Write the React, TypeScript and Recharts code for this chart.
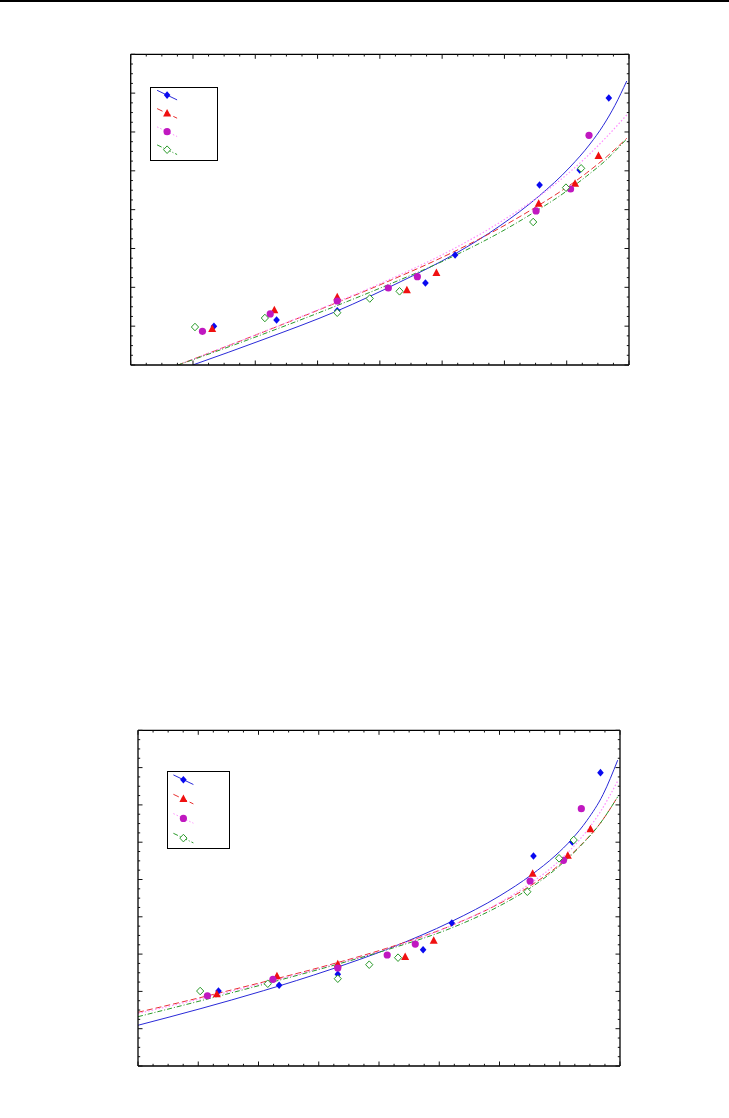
import React from 'react';
import { ComposedChart, XAxis, YAxis, Line, Scatter, Legend } from 'recharts';

// ---------- measured x positions (shared by both panels) ----------
const xBlue = [6.68, 11.71, 16.58, 23.66, 26.04, 32.82, 36.04, 38.38];
const xRed = [6.54, 11.53, 16.58, 22.17, 24.54, 32.75, 35.67, 37.55];
const xMagenta = [5.76, 11.2, 16.58, 20.68, 23.01, 32.54, 35.31, 36.79];
const xGreen = [5.16, 10.77, 16.58, 19.19, 21.58, 32.31, 34.94, 36.16];

// ---------- top panel values ----------
const yBlueTop = [4.98, 5.79, 6.99, 10.56, 14.16, 23.17, 25.1, 34.37];
const yRedTop = [4.63, 7.04, 8.72, 9.62, 11.84, 20.77, 23.34, 26.91];
const yMagentaTop = [4.34, 6.57, 8.24, 9.91, 11.37, 19.83, 22.66, 29.57];
const yGreenTop = [4.89, 6.05, 6.73, 8.56, 9.49, 18.41, 22.83, 25.32];

// fitted curves, top panel
const cTopBlueX = [4.98, 10.78, 16.56, 21.62, 26.03, 29.65, 32.78, 35.27, 36.87, 37.92, 38.87, 39.82];
const cTopBlueY = [0, 3.36, 6.95, 10.69, 14.31, 17.93, 21.75, 25.49, 28.45, 30.81, 33.42, 36.56];
const cTopX = [3.8, 10.38, 16.56, 20.01, 26.03, 29.65, 32.75, 33.92, 36.6, 38.21, 39.82];
const cTopRedY = [0, 4.08, 8.04, 10.32, 14.65, 17.65, 20.56, 21.73, 24.73, 26.82, 29.19];
const cTopMagentaY = [0, 4.1, 8.12, 10.47, 15.05, 18.38, 21.7, 23.1, 26.8, 29.38, 32.2];
const cTopGreenY = [0, 3.82, 7.65, 9.89, 14.1, 17.07, 20.02, 21.21, 24.32, 26.46, 29.12];

// ---------- bottom panel values ----------
const yBlueBot = [10.05, 10.82, 12.29, 15.59, 19.17, 28.15, 30.03, 39.32];
const yRedBot = [9.61, 12.02, 13.63, 14.61, 16.8, 25.78, 28.19, 31.73];
const yMagentaBot = [9.42, 11.62, 13.14, 14.88, 16.35, 24.8, 27.57, 34.49];
const yGreenBot = [10.05, 11.03, 11.7, 13.58, 14.52, 23.36, 27.84, 30.29];

// fitted curves, bottom panel
const cBotBlueX = [0, 5.15, 10.4, 15.93, 20.91, 26.06, 29.96, 32.67, 34.61, 35.99, 37.26, 38.59, 39.81];
const cBotBlueY = [5.46, 7.67, 10.09, 12.91, 15.8, 19.4, 22.75, 25.65, 28.17, 30.38, 32.92, 36.38, 41.0];
const cBotX = [0, 5.15, 10.4, 15.93, 20.91, 26.06, 29.96, 32.67, 34.61, 36.68, 38.34, 39.81];
const cBotRedY = [7.2, 9.16, 11.26, 13.58, 15.92, 18.86, 21.75, 24.27, 26.5, 29.5, 32.49, 36.09];
const cBotMagentaY = [7.04, 9.0, 11.1, 13.45, 15.8, 18.85, 21.85, 24.6, 27.0, 30.4, 34.0, 38.2];
const cBotGreenY = [6.61, 8.72, 10.93, 13.36, 15.7, 18.53, 21.42, 23.99, 26.32, 29.42, 32.49, 36.09];

// ---------- axes (no labels, ticks only) ----------
const xDomainTop = [0, 40];
const yDomainTop = [0, 40];
const xDomainBot = [0, 40];
const yDomainBot = [0, 45];
const majorStep = 5;
const minorStep = 1.25;

type Pt = { x: number; y: number };
const zip = (xs: number[], ys: number[]): Pt[] => xs.map((x, i) => ({ x, y: ys[i] }));
const tickList = (d: number[]) => {
  const out: number[] = [];
  for (let v = d[0]; v <= d[1] + 1e-9; v += minorStep) out.push(v);
  return out;
};

type Orient = 'bottom' | 'top' | 'left' | 'right';
const TickMark = (orient: Orient) => (props: any) => {
  const { x, y, payload } = props;
  const v = payload.value;
  const major = Math.abs(v / majorStep - Math.round(v / majorStep)) < 1e-6;
  const len = major ? 4.5 : 2.2;
  let x2 = x;
  let y2 = y;
  if (orient === 'bottom') y2 = y - len;
  else if (orient === 'top') y2 = y + len;
  else if (orient === 'left') x2 = x + len;
  else x2 = x - len;
  return <line x1={x} y1={y} x2={x2} y2={y2} stroke="#111" strokeWidth={1} />;
};

const seriesMeta = [
  { name: 'A', marker: 'diamond', fill: '#0a0af0', line: '#2a2ad8', dash: undefined as string | undefined, width: 1 },
  { name: 'B', marker: 'triangle', fill: '#f01010', line: '#e83030', dash: '6 3', width: 1 },
  { name: 'C', marker: 'circle', fill: '#c018c0', line: '#ff8cff', dash: '1.5 2', width: 1.2 },
  { name: 'D', marker: 'hollow', fill: '#2a9a2a', line: '#2a9a2a', dash: '5 2 1 2', width: 1 },
];

const drawMarker = (kind: string, cx: number, cy: number, color: string) => {
  if (kind === 'diamond')
    return <polygon points={`${cx},${cy - 3.8} ${cx + 3.3},${cy} ${cx},${cy + 3.8} ${cx - 3.3},${cy}`} fill={color} />;
  if (kind === 'triangle')
    return <polygon points={`${cx},${cy - 4.5} ${cx + 4},${cy + 3} ${cx - 4},${cy + 3}`} fill={color} />;
  if (kind === 'circle') return <circle cx={cx} cy={cy} r={3.6} fill={color} />;
  return (
    <polygon
      points={`${cx},${cy - 3.8} ${cx + 3.6},${cy} ${cx},${cy + 3.8} ${cx - 3.6},${cy}`}
      fill="#fff"
      stroke={color}
      strokeWidth={1}
    />
  );
};

const shapeFor = (kind: string, color: string) => (p: any) => drawMarker(kind, p.cx, p.cy, color);

const LegendBox = ({ w, h, rows, mx }: { w: number; h: number; rows: number[]; mx: number }) => (
  <div style={{ width: w, height: h, border: '1.3px solid #000', boxSizing: 'border-box', background: '#fff' }}>
    <svg width={w - 2.6} height={h - 2.6} style={{ display: 'block' }}>
      {seriesMeta.map((s, i) => {
        const y = rows[i] - 1.3;
        const x = mx - 1.3;
        return (
          <g key={s.name}>
            <line x1={x - 10} y1={y - 4.8} x2={x + 10} y2={y + 4.8} stroke={s.line} strokeWidth={1} strokeDasharray={s.dash} />
            {drawMarker(s.marker, x, y, s.fill)}
          </g>
        );
      })}
    </svg>
  </div>
);

type PanelProps = {
  top: number;
  margin: { left: number; right: number; top: number; bottom: number };
  xDomain: number[];
  yDomain: number[];
  points: Pt[][];
  curves: Pt[][];
  legend: { left: number; top: number; w: number; h: number; rows: number[]; mx: number };
};

const axisLine = { stroke: '#000', strokeWidth: 1.3 };

const Panel = ({ top, margin, xDomain, yDomain, points, curves, legend }: PanelProps) => {
  const xt = tickList(xDomain);
  const yt = tickList(yDomain);
  return (
    <div style={{ position: 'absolute', left: 0, top }}>
      <ComposedChart width={729} height={400} margin={margin}>
        <XAxis xAxisId={0} type="number" dataKey="x" domain={xDomain} ticks={xt} interval={0} allowDataOverflow
          height={1} tickSize={0} tickMargin={0} tickLine={false} axisLine={axisLine} tick={TickMark('bottom')} />
        <XAxis xAxisId="top" orientation="top" type="number" dataKey="x" domain={xDomain} ticks={xt} interval={0} allowDataOverflow
          height={1} tickSize={0} tickMargin={0} tickLine={false} axisLine={axisLine} tick={TickMark('top')} />
        <YAxis yAxisId={0} type="number" dataKey="y" domain={yDomain} ticks={yt} interval={0} allowDataOverflow
          width={1} tickSize={0} tickMargin={0} tickLine={false} axisLine={axisLine} tick={TickMark('left')} />
        <YAxis yAxisId="right" orientation="right" type="number" dataKey="y" domain={yDomain} ticks={yt} interval={0} allowDataOverflow
          width={1} tickSize={0} tickMargin={0} tickLine={false} axisLine={axisLine} tick={TickMark('right')} />
        {curves.map((c, i) => (
          <Line key={'c' + i} data={c} dataKey="y" type="monotone" dot={false} activeDot={false}
            stroke={seriesMeta[i].line} strokeWidth={seriesMeta[i].width} strokeDasharray={seriesMeta[i].dash}
            isAnimationActive={false} legendType="none" />
        ))}
        {points.map((p, i) => (
          <Scatter key={'p' + i} data={p} dataKey="y" shape={shapeFor(seriesMeta[i].marker, seriesMeta[i].fill)}
            isAnimationActive={false} legendType="none" />
        ))}
        <Legend layout="vertical" align="center" verticalAlign="middle"
          wrapperStyle={{ left: legend.left, top: legend.top, width: legend.w, height: legend.h }}
          content={() => <LegendBox w={legend.w} h={legend.h} rows={legend.rows} mx={legend.mx} />} />
      </ComposedChart>
    </div>
  );
};

export default function App() {
  const topPoints = [zip(xBlue, yBlueTop), zip(xRed, yRedTop), zip(xMagenta, yMagentaTop), zip(xGreen, yGreenTop)];
  const topCurves = [zip(cTopBlueX, cTopBlueY), zip(cTopX, cTopRedY), zip(cTopX, cTopMagentaY), zip(cTopX, cTopGreenY)];
  const botPoints = [zip(xBlue, yBlueBot), zip(xRed, yRedBot), zip(xMagenta, yMagentaBot), zip(xGreen, yGreenBot)];
  const botCurves = [zip(cBotBlueX, cBotBlueY), zip(cBotX, cBotRedY), zip(cBotX, cBotMagentaY), zip(cBotX, cBotGreenY)];
  return (
    <div style={{ position: 'absolute', left: 0, top: 0, width: 729, height: 1118, background: '#fff' }}>
      <div style={{ position: 'absolute', left: 0, top: 0, width: 729, height: 1.5, background: '#000' }} />
      <Panel top={0} margin={{ left: 129.7, right: 99, top: 53.3, bottom: 34 }} xDomain={xDomainTop} yDomain={yDomainTop}
        points={topPoints} curves={topCurves}
        legend={{ left: 150.3, top: 87.3, w: 68, h: 74, rows: [8.4, 26.7, 45, 63], mx: 17.4 }} />
      <Panel top={700} margin={{ left: 137, right: 108, top: 29.3, bottom: 33 }} xDomain={xDomainBot} yDomain={yDomainBot}
        points={botPoints} curves={botCurves}
        legend={{ left: 167.3, top: 71.3, w: 63, h: 78, rows: [9, 28.4, 47.7, 67.4], mx: 16.7 }} />
    </div>
  );
}
